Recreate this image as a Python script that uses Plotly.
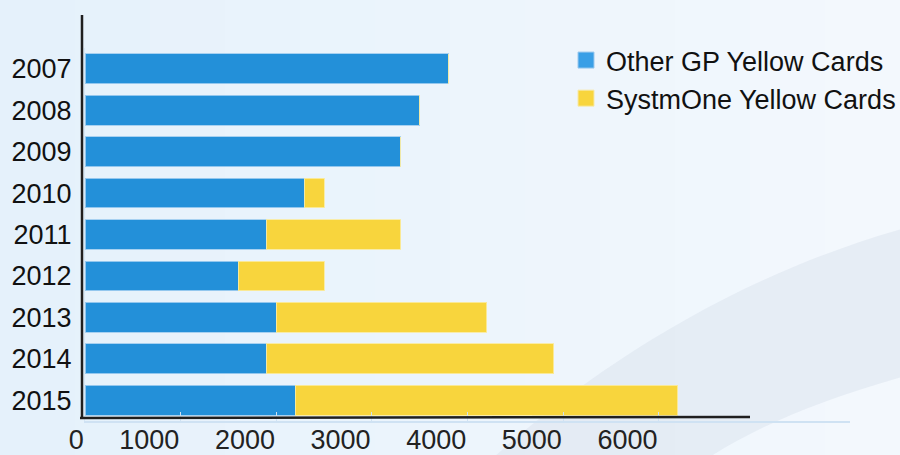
import plotly.graph_objects as go

years = ["2007", "2008", "2009", "2010", "2011", "2012", "2013", "2014", "2015"]
other_gp = [3800, 3500, 3300, 2300, 1900, 1600, 2000, 1900, 2200]
systmone = [0, 0, 0, 200, 1400, 900, 2200, 3000, 4000]
x_ticks = [0, 1000, 2000, 3000, 4000, 5000, 6000]
series_names = ["Other GP Yellow Cards", "SystmOne Yellow Cards"]

BLUE = "#2390d9"
YELLOW = "#f8d53d"
W, H = 900, 455
ML, MR, MT, MB = 85, 50, 48, 34
PW, PH = W - ML - MR, H - MT - MB


def px(x):
    return (x - ML) / PW


def py(y):
    return (H - MB - y) / PH


fig = go.Figure()
fig.add_trace(go.Bar(y=years, x=other_gp, orientation="h", name=series_names[0],
                     marker=dict(color=BLUE, line=dict(color="rgba(160,205,240,0.9)", width=1)),
                     showlegend=False))
fig.add_trace(go.Bar(y=years, x=systmone, orientation="h", name=series_names[1],
                     marker=dict(color=YELLOW, line=dict(color="rgba(250,235,160,0.9)", width=1)),
                     showlegend=False))
# legend entries with larger square symbols
fig.add_trace(go.Scatter(x=[None], y=[None], mode="markers", name=series_names[0],
                         marker=dict(symbol="square", size=20, color="#3a9fe6",
                                     line=dict(color="#9cc9ee", width=1))))
fig.add_trace(go.Scatter(x=[None], y=[None], mode="markers", name=series_names[1],
                         marker=dict(symbol="square", size=20, color=YELLOW,
                                     line=dict(color="#f7e9a8", width=1))))

shapes = []
# soft horizontal gradient background
left_c = (229, 241, 251)
right_c = (243, 248, 253)
n = 12
for i in range(n):
    t = i / (n - 1)
    c = tuple(int(round(left_c[k] + (right_c[k] - left_c[k]) * t)) for k in range(3))
    shapes.append(dict(type="rect", xref="paper", yref="paper",
                       x0=px(i * W / n), x1=px((i + 1) * W / n + 1),
                       y0=py(H + 5), y1=py(-5), line=dict(width=0),
                       fillcolor="rgb(%d,%d,%d)" % c, layer="below"))
# decorative arc band
pts = [(493, 458), (580, 380), (720, 280), (905, 228), (905, 376), (820, 400), (760, 425), (708, 458)]
p = [(px(a), py(b)) for a, b in pts]
path = ("M %.4f,%.4f C %.4f,%.4f %.4f,%.4f %.4f,%.4f L %.4f,%.4f C %.4f,%.4f %.4f,%.4f %.4f,%.4f Z"
        % tuple(v for pt in p for v in pt))
shapes.append(dict(type="path", xref="paper", yref="paper", path=path,
                   fillcolor="rgba(215,225,235,0.45)", line=dict(width=0), layer="below"))
# hand-drawn style black axes
shapes.append(dict(type="line", xref="paper", yref="paper",
                   x0=px(82), x1=px(82), y0=py(15), y1=py(418),
                   line=dict(color="#1f1f1f", width=2.5)))
shapes.append(dict(type="line", xref="paper", yref="paper",
                   x0=px(80), x1=px(750), y0=py(418), y1=py(417),
                   line=dict(color="#1f1f1f", width=2.5)))

fig.update_layout(
    width=W, height=H,
    margin=dict(l=ML, r=MR, t=MT, b=MB, autoexpand=False),
    paper_bgcolor="#eef5fc",
    plot_bgcolor="rgba(0,0,0,0)",
    barmode="stack",
    bargap=0.28,
    font=dict(family="Liberation Sans, Arial, sans-serif", size=27, color="#1a1a1a"),
    shapes=shapes,
    legend=dict(x=px(566), y=py(36), xanchor="left", yanchor="top",
                traceorder="normal",
                bgcolor="rgba(0,0,0,0)", font=dict(size=27, color="#111111"),
                tracegroupgap=0),
    xaxis=dict(range=[0, 8000], tickvals=x_ticks, ticktext=[str(v) for v in x_ticks],
               automargin=False,
               showgrid=False, zeroline=False, showline=True, linecolor="#cfe2f3",
               linewidth=1.5, ticks="inside", ticklen=9, tickcolor="#cfe2f3",
               ticklabelposition="outside left", ticklabelstandoff=-6,
               tickfont=dict(size=27, color="#222222")),
    yaxis=dict(categoryorder="array", categoryarray=years, autorange="reversed",
               automargin=False,
               showgrid=False, zeroline=False, showline=True, linecolor="#d6e8f6",
               ticks="", ticklabelstandoff=7, tickfont=dict(size=27, color="#111111")),
)

fig.write_html("out.html")
